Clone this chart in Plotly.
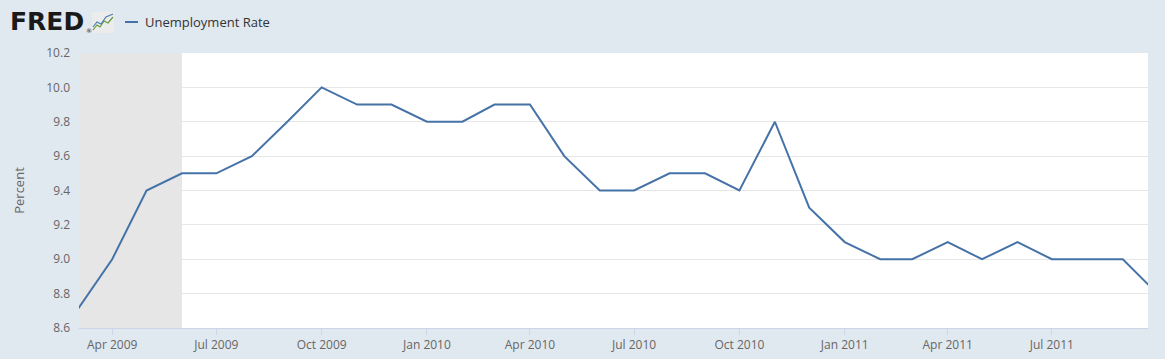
import plotly.graph_objects as go

dates = ["2009-03-01","2009-04-01","2009-05-01","2009-06-01","2009-07-01","2009-08-01","2009-09-01",
         "2009-10-01","2009-11-01","2009-12-01","2010-01-01","2010-02-01","2010-03-01","2010-04-01",
         "2010-05-01","2010-06-01","2010-07-01","2010-08-01","2010-09-01","2010-10-01","2010-11-01",
         "2010-12-01","2011-01-01","2011-02-01","2011-03-01","2011-04-01","2011-05-01","2011-06-01",
         "2011-07-01","2011-08-01","2011-09-01","2011-10-01"]
unrate = [8.7, 9.0, 9.4, 9.5, 9.5, 9.6, 9.8, 10.0, 9.9, 9.9, 9.8, 9.8, 9.9, 9.9,
          9.6, 9.4, 9.4, 9.5, 9.5, 9.4, 9.8, 9.3, 9.1, 9.0, 9.0, 9.1, 9.0, 9.1,
          9.0, 9.0, 9.0, 8.8]
recession_start = "2009-02-01"
recession_end = "2009-06-01"
x_range = ["2009-03-03", "2011-09-23"]
y_range = [8.6, 10.2]
series_name = "Unemployment Rate"

W, H = 1165, 359
L, R, T, B = 79, 17, 53, 31
pw, ph = W - L - R, H - T - B

def px(x):
    return (x - L) / pw

def py(y):
    return (H - B - y) / ph

fig = go.Figure()
fig.add_trace(go.Scatter(x=dates, y=unrate, mode="lines", name=series_name,
                         line=dict(color="#4572a7", width=2), showlegend=False))

fig.add_vrect(x0=recession_start, x1=recession_end, fillcolor="#e6e6e6",
              line_width=0, layer="below")

shapes = [
    dict(type="line", xref="paper", yref="paper", x0=px(125), x1=px(138), y0=py(22), y1=py(22),
         line=dict(color="#4572a7", width=2)),
    dict(type="rect", xref="paper", yref="paper", x0=px(92), x1=px(114), y0=py(33), y1=py(12),
         fillcolor="#ececec", line=dict(width=0)),
    dict(type="path", xref="paper", yref="paper",
         path="M {} {} L {} {} L {} {} L {} {} L {} {} L {} {}".format(
             px(93), py(30), px(97), py(25), px(100), py(27), px(104), py(21), px(108), py(23), px(113), py(17)),
         line=dict(color="#6b9a3c", width=1.2)),
    dict(type="path", xref="paper", yref="paper",
         path="M {} {} L {} {} L {} {} L {} {} L {} {}".format(
             px(93), py(27), px(97), py(22), px(101), py(24), px(106), py(17), px(113), py(14)),
         line=dict(color="#4a7fb5", width=1.2)),
]
for s in shapes:
    fig.add_shape(**s)

fig.add_annotation(xref="paper", yref="paper", x=px(8), y=py(22), xanchor="left", yanchor="middle",
                   text="<b>FRED</b>", showarrow=False,
                   font=dict(family="DejaVu Sans", size=25, color="#1a1a1a"))
fig.add_annotation(xref="paper", yref="paper", x=px(84), y=py(31), xanchor="left", yanchor="middle",
                   text="®", showarrow=False, font=dict(family="DejaVu Sans", size=6, color="#1a1a1a"))
fig.add_annotation(xref="paper", yref="paper", x=px(143), y=py(22), xanchor="left", yanchor="middle",
                   text=series_name, showarrow=False,
                   font=dict(family="Open Sans", size=13, color="#333333"))

fig.update_layout(
    width=W, height=H,
    margin=dict(l=L, r=R, t=T, b=B),
    paper_bgcolor="#e1e9f0",
    plot_bgcolor="#ffffff",
    font=dict(family="Open Sans", size=12, color="#666666"),
    xaxis=dict(range=x_range, type="date", dtick="M3", tick0="2009-01-01", tickformat="%b %Y",
               showgrid=False, ticks="outside", ticklen=6, tickcolor="#ccd6eb",
               showline=True, linecolor="#ccd6eb", linewidth=1, automargin=False,
               tickfont=dict(size=12, color="#666666"), zeroline=False),
    yaxis=dict(range=y_range, dtick=0.2, tick0=8.6, tickformat=".1f", automargin=False,
               showgrid=True, gridcolor="#e6e6e6", gridwidth=1, zeroline=False,
               tickfont=dict(size=12, color="#666666"), ticks="", ticklabelstandoff=8,
               title=dict(text="Percent", font=dict(size=13, color="#666666"), standoff=18)),
)

fig.write_html("out.html", config={"displayModeBar": False},
               post_script="document.body.style.margin='0';document.body.style.background='#e1e9f0';")
